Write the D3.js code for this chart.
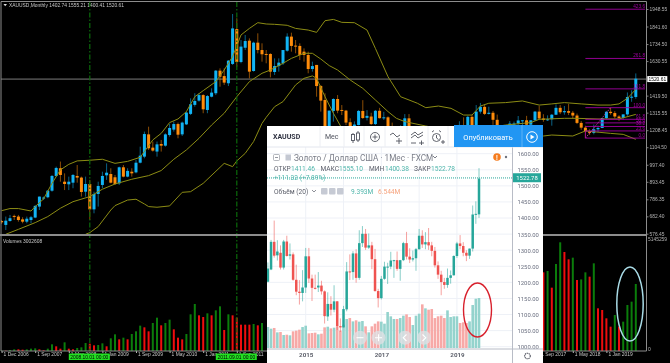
<!DOCTYPE html>
<html>
<head>
<meta charset="utf-8">
<style>
  html, body { margin: 0; padding: 0; background: #000; overflow: hidden; }
  svg { display: block; filter: blur(0.3px); }
  .mt text { font-family: "Liberation Sans", sans-serif; }
  .tv text { font-family: Roboto, "Liberation Sans", sans-serif; }
</style>
<script src="https://cdnjs.cloudflare.com/ajax/libs/d3/7.8.5/d3.min.js"></script>
</head>
<body>
<div id="chart"></div>
<script>
// ─── MT4 monthly bars, Dec 2006 to Dec 2013 (later months share the arrays of the front chart) ───
const headOpen = [654,630,654,685,681,664,650,660,675,742,791,799,839,929,976,894,878,888,929,919,833,880,725,819,874,933,941,921,884,982,925,955,951,1010,1047,1183,1102,1078,1124,1114,1179,1212,1246,1183,1244,1308,1363,1389,1423,1332,1413,1434,1572,1539,1495,1613,1826,1625,1712,1755,1570,1743,1698,1674,1674,1564,1600,1617,1694,1780,1725,1723,1688,1668,1582,1607,1478,1393,1234,1326,1399,1332,1328,1257];
const headHigh = [660,681,691,693,691,677,681,685,752,803,803,843,935,986,1017,945,925,941,996,925,925,905,833,894,955,1006,976,935,986,996,976,976,1027,1108,1200,1230,1139,1139,1149,1189,1246,1261,1255,1261,1322,1403,1434,1434,1428,1423,1464,1576,1586,1586,1637,1918,1892,1759,1790,1769,1749,1800,1739,1698,1678,1647,1647,1698,1800,1804,1759,1739,1708,1688,1627,1607,1485,1434,1328,1403,1423,1362,1332,1281];
const headLow = [636,599,650,660,650,640,640,640,671,721,782,793,833,925,894,843,843,854,888,803,803,660,701,742,854,905,884,874,874,921,921,925,945,1006,1037,1088,1078,1047,1078,1108,1169,1200,1159,1173,1240,1301,1352,1383,1312,1312,1409,1423,1474,1485,1478,1607,1596,1617,1698,1525,1566,1678,1627,1617,1531,1546,1566,1607,1688,1688,1678,1637,1627,1556,1566,1413,1322,1200,1220,1261,1312,1301,1240,1200];
const headClose = [646,656,671,679,660,650,668,677,746,803,797,839,929,978,935,880,894,935,919,831,880,725,819,868,929,949,888,880,982,925,960,945,1010,1053,1185,1098,1084,1122,1114,1183,1222,1246,1181,1255,1316,1367,1387,1423,1336,1417,1438,1572,1535,1499,1633,1830,1625,1719,1753,1566,1743,1698,1672,1668,1566,1600,1621,1698,1780,1723,1719,1668,1668,1582,1600,1478,1389,1234,1328,1399,1328,1328,1255,1202];

// ─── Front chart monthly bars, Jan 2014 to Aug 2019 ───
const tvOpen = [1202,1240,1326,1284,1292,1246,1327,1283,1287,1208,1171,1167,1184,1281,1212,1183,1184,1190,1172,1094,1133,1115,1141,1064,1060,1116,1234,1232,1290,1214,1322,1351,1308,1315,1272,1173,1151,1211,1249,1249,1268,1269,1242,1269,1322,1280,1271,1275,1303,1345,1318,1325,1315,1298,1253,1224,1201,1192,1214,1222,1282,1321,1313,1292,1283,1305,1411,1411.46];
const tvHigh = [1262,1332,1392,1331,1315,1332,1345,1321,1293,1255,1207,1238,1307,1307,1224,1224,1232,1205,1175,1169,1157,1191,1142,1088,1127,1263,1287,1297,1303,1362,1375,1366,1352,1326,1304,1180,1220,1264,1261,1295,1270,1296,1270,1326,1357,1306,1299,1307,1366,1362,1356,1369,1326,1310,1265,1236,1214,1243,1237,1284,1326,1347,1325,1300,1305,1439,1452,1555.1];
const tvLow = [1200,1238,1277,1268,1240,1240,1280,1271,1205,1160,1131,1141,1167,1198,1142,1178,1170,1162,1072,1080,1097,1107,1052,1046,1060,1110,1207,1208,1199,1208,1310,1301,1304,1241,1171,1122,1147,1208,1195,1241,1214,1236,1205,1266,1271,1260,1265,1236,1302,1307,1303,1301,1281,1246,1211,1160,1180,1183,1196,1221,1276,1303,1281,1266,1273,1296,1382,1400.38];
const tvClose = [1243,1326,1283,1296,1246,1327,1282,1287,1208,1171,1167,1184,1281,1212,1183,1182,1190,1172,1095,1133,1115,1141,1064,1060,1117,1234,1232,1290,1214,1322,1351,1308,1315,1272,1173,1151,1211,1249,1249,1268,1269,1242,1269,1322,1280,1271,1275,1303,1345,1318,1325,1315,1298,1253,1224,1201,1192,1214,1222,1282,1321,1313,1292,1283,1305,1411,1413,1522.78];
const tvVolume = [3.94,3.63,3.76,2.94,3.0,2.44,2.5,2.38,3.13,3.26,3.44,3.94,4.19,2.75,2.82,2.88,2.57,2.69,3.88,4.0,3.69,3.82,4.07,3.26,4.38,5.45,5.63,5.0,5.2,4.95,5.07,4.07,2.94,4.07,4.57,5.0,4.95,4.57,6.76,5.95,5.45,5.45,5.63,6.07,6.32,5.82,4.32,6.07,6.45,8.2,7.45,7.2,7.32,5.63,5.95,6.07,5.63,7.07,5.82,5.95,5.95,4.7,4.82,4.7,5.0,8.08,9.26,9.39];

// MT4 volumes in thousands; the months between the two runs sit behind the front chart
const volumeHead = [15,15,46,76,76,61,76,106,121,76,30,106,304,213,106,395,106,76,137,167,364,334,258,273,349,213,577,759,531,607,531,774,896,1154,1078,896,1275,1518,1169,1275,1427,987,607,531,774,1670,2140,1624,1548,1715,1624,1852,2034,956,1670,1624,1518,1199,1199,1199,1230,1169,1275];
const volumeTail = [3582,3643,2884,3962,4949,4508,4175,4250,3233,3260,3582,3385,3992,1943,1867,1488,1108,1639,1108,1336,2095,2247,3051];
const VOLUME_TAIL_START = 129;

// Bollinger bands as [bar index, price] read at the bends
const bandUpper = [[0,717],[2,730],[4,730],[7,715],[8,742],[10,789],[12,884],[14,966],[16,1000],[18,1021],[21,1025],[24,1031],[27,1006],[30,1018],[33,1043],[34,1078],[36,1149],[38,1189],[40,1255],[42,1277],[44,1322],[46,1413],[48,1450],[51,1505],[53,1576],[55,1658],[57,1790],[59,1830],[61,1865],[63,1857],[65,1855],[68,1849],[70,1830],[73,1820],[75,1806],[77,1877],[79,1885],[81,1867],[84,1865],[87,1820],[89,1708],[92,1535],[95,1413],[97,1393],[99,1373],[101,1346],[104,1356],[107,1342],[110,1301],[112,1301],[114,1356],[116,1373],[120,1377],[124,1387],[128,1362],[131,1369],[134,1377],[138,1369],[142,1362],[145,1362],[147,1369],[149,1403],[151,1458]];
const bandMiddle = [[1,573],[4,603],[8,644],[11,681],[14,732],[17,772],[21,803],[24,848],[27,880],[31,909],[35,931],[38,962],[41,1031],[44,1088],[47,1159],[50,1240],[53,1312],[56,1413],[59,1505],[62,1556],[64,1576],[67,1617],[69,1647],[72,1678],[74,1678],[76,1643],[78,1603],[80,1576],[83,1515],[86,1464],[89,1393],[92,1322],[94,1281],[96,1261],[101,1234],[105,1215],[110,1200],[115,1220],[120,1240],[126,1255],[128,1275],[134,1281],[137,1281],[142,1277],[147,1277],[151,1305]];
const bandLower = [[20,573],[21,583],[23,620],[26,721],[27,748],[30,782],[32,787],[34,758],[35,742],[37,738],[40,746],[43,829],[45,833],[48,884],[53,1006],[55,986],[56,1021],[58,1067],[60,1139],[62,1250],[63,1287],[65,1352],[67,1383],[70,1485],[72,1525],[74,1540],[75,1525],[77,1413],[79,1312],[81,1220],[85,1100],[90,1050],[95,1030],[100,1035],[110,1010],[120,1100],[129,1173],[131,1179],[136,1173],[139,1204],[145,1189],[148,1183],[151,1153]];

// Fibonacci grid between the Aug 2018 low and the Feb 2019 high
const fibLevels = [0, 23.6, 38.2, 50, 61.8, 100, 161.8, 261.8, 423.6];
const FIB_LOW = 1160.2, FIB_HIGH = 1346, FIB_START = 139, FIB_END = 145;

const mainPriceTicks = [1948.55,1841.60,1734.50,1630.55,1419.50,1315.55,1208.45,1104.50,997.40,893.45,786.35,682.40,576.45];
const CURRENT_PRICE = 1520.61;
const VOLUME_MAX = 5145259;
const markerBars = [21, 56];
const markerLabels = ['2008.10.01 00:00', '2011.09.01 00:00'];
const xTickBars = [0, 8, 16, 24, 32, 40, 48, 56, 128, 136, 144];
const xTickLabels = ['1 Dec 2006','1 Sep 2007','1 May 2008','1 Jan 2009','1 Sep 2009','1 May 2010','1 Jan 2011','1 Sep 2011','1 Sep 2017','1 May 2018','1 Jan 2019'];

const tvPriceTicks = [1000,1050,1100,1150,1200,1250,1300,1350,1400,1450,1500,1550,1600];
const tvYearBars = [12, 36, 60];
const tvYearLabels = ['2015', '2017', '2019'];
const tvGridBars = [12, 24, 36, 48, 60];

const WIDTH = 670, HEIGHT = 363;
const PANE_RIGHT = 646.5, PANE_SPLIT = 235, AXIS_Y = 351;
const TV = { left: 267, right: 543, top: 126, tool: 147, axis: 512.5, bottom: 349 };
const MT_FONT = '4.9px';

const BLUE = '#12b4f4', ORANGE = '#ff8c0a', BAND = '#8c8c14', FIB = '#a000a0', GRID = '#7d7d7d';
const TV_UP = '#26a69a', TV_DOWN = '#ef5350', TV_TEXT = '#6b7080', TV_LINE = '#e3e6ee';

const openAll = headOpen.concat(tvOpen);
const highAll = headHigh.concat(tvHigh);
const lowAll = headLow.concat(tvLow);
const closeAll = headClose.concat(tvClose);

const xMain = d3.scaleLinear().domain([0, 151]).range([1.6, 635.8]);
const yMain = d3.scaleLinear().domain([576.45, 1948.55]).range([233.7, 9]);
const yVolume = d3.scaleLinear().domain([0, VOLUME_MAX / 1000]).range([AXIS_Y, 238]);
const xTv = d3.scaleLinear().domain([0, 67]).range([267.9, 479]);
const yTv = d3.scaleLinear().domain([1000, 1600]).range([346.7, 153.7]);
const yTvVolume = d3.scaleLinear().domain([0, 9.393]).range([348, 298]);

const svg = d3.select('#chart').append('svg')
  .attr('width', WIDTH).attr('height', HEIGHT)
  .attr('viewBox', `0 0 ${WIDTH} ${HEIGHT}`)
  .style('background', '#000');

const defs = svg.append('defs');
defs.append('clipPath').attr('id', 'clip-main').append('rect')
  .attr('x', 1).attr('y', 2).attr('width', PANE_RIGHT - 1).attr('height', PANE_SPLIT - 3);
defs.append('clipPath').attr('id', 'clip-tv').append('rect')
  .attr('x', TV.left).attr('y', TV.tool).attr('width', TV.axis - TV.left).attr('height', TV.bottom - TV.tool);

drawMainChart();
drawVolumePane();
drawFrame();
drawFrontChart();
drawMarks();

function drawMainChart() {
  const mt = svg.append('g').attr('class', 'mt');
  const pane = mt.append('g').attr('clip-path', 'url(#clip-main)');

  pane.append('line')
    .attr('x1', 1).attr('x2', PANE_RIGHT)
    .attr('y1', yMain(CURRENT_PRICE)).attr('y2', yMain(CURRENT_PRICE))
    .attr('stroke', GRID).attr('stroke-width', 1);

  const bars = d3.range(openAll.length);

  pane.selectAll('.wick').data(bars).join('line')
    .attr('class', 'wick')
    .attr('x1', i => xMain(i)).attr('x2', i => xMain(i))
    .attr('y1', i => yMain(highAll[i])).attr('y2', i => yMain(lowAll[i]))
    .attr('stroke', i => closeAll[i] >= openAll[i] ? BLUE : ORANGE)
    .attr('stroke-opacity', 0.55)
    .attr('stroke-width', 1);

  pane.selectAll('.body').data(bars).join('rect')
    .attr('class', 'body')
    .attr('x', i => xMain(i) - 1.5)
    .attr('width', 3)
    .attr('y', i => yMain(Math.max(openAll[i], closeAll[i])))
    .attr('height', i => Math.max(1, Math.abs(yMain(openAll[i]) - yMain(closeAll[i]))))
    .attr('fill', i => closeAll[i] >= openAll[i] ? BLUE : ORANGE);

  const bandLine = d3.line().x(d => xMain(d[0])).y(d => yMain(d[1]));
  [bandUpper, bandMiddle, bandLower].forEach(band => {
    pane.append('path').attr('d', bandLine(band))
      .attr('fill', 'none').attr('stroke', BAND).attr('stroke-width', 1);
  });

  // Fibonacci grid
  const fibPrice = r => FIB_LOW + (FIB_HIGH - FIB_LOW) * r / 100;
  const fibRight = xMain.invert(645);
  pane.selectAll('.fib-line').data(fibLevels).join('line')
    .attr('class', 'fib-line')
    .attr('x1', xMain(FIB_START)).attr('x2', xMain(fibRight))
    .attr('y1', r => yMain(fibPrice(r))).attr('y2', r => yMain(fibPrice(r)))
    .attr('stroke', FIB).attr('stroke-width', 0.9);
  pane.selectAll('.fib-label').data(fibLevels).join('text')
    .attr('class', 'fib-label')
    .attr('x', 645).attr('y', r => yMain(fibPrice(r)) - 1)
    .attr('text-anchor', 'end')
    .style('font-size', '4.7px').style('fill', FIB)
    .text(r => r.toFixed(1));
  pane.append('line')
    .attr('x1', xMain(FIB_START)).attr('x2', xMain(FIB_END))
    .attr('y1', yMain(FIB_LOW)).attr('y2', yMain(FIB_HIGH))
    .attr('stroke', '#d040c0').attr('stroke-width', 0.8).attr('stroke-dasharray', '1.5,1');
  pane.append('line')
    .attr('x1', xMain(FIB_START)).attr('x2', xMain(FIB_START))
    .attr('y1', yMain(FIB_LOW)).attr('y2', yMain(fibPrice(23.6)))
    .attr('stroke', FIB).attr('stroke-width', 0.9);

  // Title
  mt.append('path').attr('d', 'M3.5,4 L7,4 L5.2,6.2 Z').attr('fill', '#ddd');
  mt.append('text').attr('x', 9).attr('y', 7.3)
    .style('font-size', MT_FONT).style('fill', '#c8c8c8')
    .text('XAUUSD,Monthly  1402.74 1555.21 1400.41 1520.61');

  // Price axis
  const axis = mt.append('g').attr('transform', `translate(${PANE_RIGHT},0)`)
    .call(d3.axisRight(yMain).tickValues(mainPriceTicks).tickFormat(d => d.toFixed(2)).tickSize(2).tickPadding(1));
  axis.select('.domain').remove();
  axis.selectAll('line').attr('stroke', GRID);
  axis.selectAll('text').style('font-size', MT_FONT).style('fill', '#b4b4b4')
    .style('font-family', '"Liberation Sans", sans-serif');

  mt.append('rect').attr('x', 647.3).attr('y', yMain(CURRENT_PRICE) - 3)
    .attr('width', 20).attr('height', 6).attr('fill', '#fff');
  mt.append('text').attr('x', 657.3).attr('y', yMain(CURRENT_PRICE) + 1.8)
    .attr('text-anchor', 'middle')
    .style('font-size', MT_FONT).style('fill', '#000')
    .text(CURRENT_PRICE.toFixed(2));
}

function drawVolumePane() {
  const mt = svg.append('g').attr('class', 'mt');

  const volumeBars = volumeHead.map((v, i) => ({ i, v, prev: i ? volumeHead[i - 1] : 0 }))
    .concat(volumeTail.map((v, k) => ({ i: VOLUME_TAIL_START + k, v, prev: k ? volumeTail[k - 1] : Infinity })));

  mt.selectAll('.vol').data(volumeBars).join('rect')
    .attr('class', 'vol')
    .attr('x', d => xMain(d.i) - 1)
    .attr('width', 2)
    .attr('y', d => yVolume(d.v))
    .attr('height', d => AXIS_Y - yVolume(d.v))
    .attr('fill', d => d.v > d.prev ? '#0b7d0b' : '#f00d0d');

  mt.append('text').attr('x', 3).attr('y', 242.6)
    .style('font-size', MT_FONT).style('fill', '#c8c8c8').text('Volumes 3002608');
  mt.append('text').attr('x', 648).attr('y', 241)
    .style('font-size', MT_FONT).style('fill', '#b4b4b4').text(String(VOLUME_MAX));
  mt.append('text').attr('x', 648).attr('y', 350.5)
    .style('font-size', MT_FONT).style('fill', '#b4b4b4').text('0');

  const axis = mt.append('g').attr('transform', `translate(0,${AXIS_Y})`)
    .call(d3.axisBottom(xMain).tickValues(xTickBars).tickFormat((d, i) => xTickLabels[i]).tickSize(2).tickPadding(0));
  axis.select('.domain').remove();
  axis.selectAll('line').attr('stroke', '#bbb');
  axis.selectAll('text')
    .attr('text-anchor', 'start').attr('dx', 1.5)
    .style('font-size', MT_FONT).style('fill', '#c8c8c8')
    .style('font-family', '"Liberation Sans", sans-serif');

  // Dash-dot markers through both panes, with their date tags on the time scale
  markerBars.forEach((bar, k) => {
    mt.append('line')
      .attr('x1', xMain(bar)).attr('x2', xMain(bar))
      .attr('y1', 2).attr('y2', AXIS_Y)
      .attr('stroke', '#0a6a0a').attr('stroke-width', 1.2).attr('stroke-dasharray', '5,2,1.5,2');
    mt.append('rect')
      .attr('x', xMain(bar) - 21).attr('y', 353.5)
      .attr('width', 41).attr('height', 6.5).attr('fill', '#22e022');
    mt.append('text')
      .attr('x', xMain(bar) - 0.5).attr('y', 358.6)
      .attr('text-anchor', 'middle')
      .style('font-size', MT_FONT).style('fill', '#000')
      .text(markerLabels[k]);
  });
}

function drawFrame() {
  const frame = svg.append('g').attr('stroke', '#8c8c8c').attr('fill', 'none');
  frame.append('path').attr('d', `M1,1.5 H${PANE_RIGHT} V${AXIS_Y} M1,1.5 V${AXIS_Y} H${PANE_RIGHT}`);
  frame.append('line').attr('x1', 0).attr('x2', PANE_RIGHT).attr('y1', PANE_SPLIT).attr('y2', PANE_SPLIT)
    .attr('stroke-width', 2);
}

function drawFrontChart() {
  const tv = svg.append('g').attr('class', 'tv');

  tv.append('rect')
    .attr('x', TV.left).attr('y', TV.top)
    .attr('width', TV.right - TV.left).attr('height', HEIGHT - TV.top)
    .attr('fill', '#fff');

  // Grid
  const grid = tv.append('g');
  grid.selectAll('.h').data(tvPriceTicks).join('line')
    .attr('x1', TV.left).attr('x2', TV.axis)
    .attr('y1', d => yTv(d)).attr('y2', d => yTv(d))
    .attr('stroke', '#eef1f7');
  grid.selectAll('.v').data(tvGridBars).join('line')
    .attr('x1', d => xTv(d)).attr('x2', d => xTv(d))
    .attr('y1', TV.tool).attr('y2', TV.bottom)
    .attr('stroke', '#eef1f7');

  const plot = tv.append('g').attr('clip-path', 'url(#clip-tv)');
  const bars = d3.range(tvOpen.length);
  const isUp = i => tvClose[i] >= tvOpen[i];

  plot.selectAll('.vol').data(bars).join('rect')
    .attr('x', i => xTv(i) - 1.3).attr('width', 2.6)
    .attr('y', i => yTvVolume(tvVolume[i]))
    .attr('height', i => 348 - yTvVolume(tvVolume[i]))
    .attr('fill', i => isUp(i) ? '#94d3cd' : '#f7a9a7');

  plot.selectAll('.wick').data(bars).join('line')
    .attr('x1', i => xTv(i)).attr('x2', i => xTv(i))
    .attr('y1', i => yTv(tvHigh[i])).attr('y2', i => yTv(tvLow[i]))
    .attr('stroke', i => isUp(i) ? TV_UP : TV_DOWN)
    .attr('stroke-opacity', 0.55);

  plot.selectAll('.body').data(bars).join('rect')
    .attr('x', i => xTv(i) - 1.25).attr('width', 2.5)
    .attr('y', i => yTv(Math.max(tvOpen[i], tvClose[i])))
    .attr('height', i => Math.max(1, Math.abs(yTv(tvOpen[i]) - yTv(tvClose[i]))))
    .attr('fill', i => isUp(i) ? TV_UP : TV_DOWN);

  plot.append('line')
    .attr('x1', TV.left).attr('x2', TV.axis)
    .attr('y1', yTv(1522.78) - 0.6).attr('y2', yTv(1522.78) - 0.6)
    .attr('stroke', TV_UP).attr('stroke-dasharray', '1,1');

  // Price and time scales
  const priceAxis = tv.append('g').attr('transform', `translate(${TV.axis},0)`)
    .call(d3.axisRight(yTv).tickValues(tvPriceTicks).tickFormat(d => d.toFixed(2)).tickSize(0).tickPadding(5));
  priceAxis.select('.domain').remove();
  priceAxis.selectAll('text').style('font-size', '5.9px').style('fill', TV_TEXT)
    .style('font-family', 'Roboto, sans-serif');
  tv.append('line').attr('x1', TV.axis).attr('x2', TV.axis).attr('y1', TV.tool).attr('y2', HEIGHT)
    .attr('stroke', '#b8bcc6');
  tv.append('line').attr('x1', TV.left).attr('x2', TV.right).attr('y1', TV.bottom).attr('y2', TV.bottom)
    .attr('stroke', '#b8bcc6');

  const timeAxis = tv.append('g').attr('transform', `translate(0,${TV.bottom})`)
    .call(d3.axisBottom(xTv).tickValues(tvYearBars).tickFormat((d, i) => tvYearLabels[i]).tickSize(0).tickPadding(4));
  timeAxis.select('.domain').remove();
  timeAxis.selectAll('text').style('font-size', '6.2px').style('font-weight', 700).style('fill', '#5d606b')
    .style('font-family', 'Roboto, sans-serif');

  tv.append('rect').attr('x', TV.axis + 0.5).attr('y', yTv(1522.78) - 5.3)
    .attr('width', 28).attr('height', 9).attr('fill', TV_UP);
  tv.append('text').attr('x', TV.axis + 14.5).attr('y', yTv(1522.78) + 1.2)
    .attr('text-anchor', 'middle').style('font-size', '5.9px').style('fill', '#fff').text('1522.78');

  drawToolbar(tv);
  drawLegend(tv);
  drawNavButtons(tv);
}

function drawToolbar(tv) {
  tv.append('line').attr('x1', TV.left).attr('x2', TV.right).attr('y1', TV.tool).attr('y2', TV.tool).attr('stroke', TV_LINE);
  [320, 344, 364, 385, 407, 428, 448].forEach(x => {
    tv.append('line').attr('x1', x).attr('x2', x).attr('y1', TV.top).attr('y2', TV.tool).attr('stroke', '#eceef3');
  });
  tv.append('text').attr('x', 273).attr('y', 139.3)
    .style('font-size', '7px').style('font-weight', 700).style('fill', '#2f3241').text('XAUUSD');
  tv.append('text').attr('x', 325).attr('y', 139.3)
    .style('font-size', '7px').style('fill', '#50535e').text('Мес');

  const icons = tv.append('g').attr('fill', 'none').attr('stroke', '#50535e').attr('stroke-width', 0.9);
  // candles, add indicator, compare, indicators, alert
  icons.append('path').attr('d', 'M353,133 V143 M358,131 V142');
  icons.append('rect').attr('x', 351.5).attr('y', 134.5).attr('width', 3).attr('height', 6).attr('fill', '#fff');
  icons.append('rect').attr('x', 356.5).attr('y', 133).attr('width', 3).attr('height', 7).attr('fill', '#fff');
  icons.append('circle').attr('cx', 375).attr('cy', 137).attr('r', 4.5);
  icons.append('path').attr('d', 'M372.5,137 H377.5 M375,134.5 V139.5');
  icons.append('path').attr('d', 'M390,135 L393,133 L397,137 L400,135 M396,141 H402 M399,138 V144');
  icons.append('path').attr('d', 'M411,135 L415,132 L418,135 L423,132 M411,138 L415,135 L418,138 L423,135 M411,143 H416 M419,143 H424 M421.5,140.5 V145');
  icons.append('circle').attr('cx', 436.5).attr('cy', 137.5).attr('r', 4);
  icons.append('path').attr('d', 'M432,132 L434,130.5 M441,132 L439,130.5 M436.5,135 V138 L438.5,139.5 M441,142 H445 M443,140 V144');

  tv.append('rect').attr('x', 454).attr('y', TV.top - 1).attr('width', TV.right - 454).attr('height', TV.tool - TV.top + 1)
    .attr('fill', '#2196f3');
  tv.append('line').attr('x1', 522).attr('x2', 522).attr('y1', TV.top - 1).attr('y2', TV.tool).attr('stroke', '#5eb2f6');
  tv.append('text').attr('x', 488).attr('y', 139.5)
    .attr('text-anchor', 'middle')
    .style('font-size', '7.4px').style('fill', '#fff').text('Опубликовать');
  tv.append('circle').attr('cx', 532).attr('cy', 137).attr('r', 5.3)
    .attr('fill', 'none').attr('stroke', '#fff');
  tv.append('path').attr('d', 'M530.5,134.5 L534.5,137 L530.5,139.5 Z').attr('fill', '#fff');
}

function drawLegend(tv) {
  const label = (x, y, text, fill, size) => tv.append('text').attr('x', x).attr('y', y)
    .style('font-size', (size || 7) + 'px').style('fill', fill).text(text);

  // Title row
  tv.append('rect').attr('x', 273.5).attr('y', 154.5).attr('width', 6).attr('height', 6)
    .attr('rx', 1).attr('fill', 'none').attr('stroke', '#9598a1').attr('stroke-width', 0.7);
  tv.append('line').attr('x1', 275).attr('x2', 278).attr('y1', 157.5).attr('y2', 157.5).attr('stroke', '#9598a1');
  tv.append('rect').attr('x', 285.5).attr('y', 154.5).attr('width', 5.5).attr('height', 6).attr('fill', '#c4c8d2');
  label(294, 161, 'Золото / Доллар США · 1Мес · FXCM', '#7a7d88', 8.2);
  tv.append('path').attr('d', 'M433,156 L435,158 L437,156').attr('fill', 'none').attr('stroke', '#7a7d88');
  tv.append('circle').attr('cx', 497).attr('cy', 157).attr('r', 3.8).attr('fill', '#f57c1f');
  tv.append('text').attr('x', 497).attr('y', 159.5).attr('text-anchor', 'middle')
    .style('font-size', '6.5px').style('font-weight', 700).style('fill', '#fff').text('!');
  tv.append('circle').attr('cx', 506).attr('cy', 157).attr('r', 1.2).attr('fill', '#70737e');

  // OHLC row
  const TEAL = '#4fb6ab', DARK = '#5d606b';
  label(274, 170.6, 'ОТКР', DARK, 6.6); label(291, 170.6, '1411.46', TEAL, 6.6);
  label(320.5, 170.6, 'МАКС', DARK, 6.6); label(339, 170.6, '1555.10', TEAL, 6.6);
  label(369, 170.6, 'МИН', DARK, 6.6); label(385, 170.6, '1400.38', TEAL, 6.6);
  label(414, 170.6, 'ЗАКР', DARK, 6.6); label(431, 170.6, '1522.78', TEAL, 6.6);
  label(274, 180.2, '+111.32 (+7.89%)', TEAL, 6.6);

  // Volume row
  label(274, 193.5, 'Объём (20)', DARK, 6.6);
  tv.append('path').attr('d', 'M312,190 L314,192 L316,190').attr('fill', 'none').attr('stroke', DARK).attr('stroke-width', 0.7);
  [321, 329, 337].forEach(x => {
    tv.append('rect').attr('x', x).attr('y', 188).attr('width', 6.5).attr('height', 6.5)
      .attr('rx', 1).attr('fill', '#c6cad4');
  });
  label(351, 193.5, '9.393M', TEAL, 6.6);
  label(378, 193.5, '6.544M', '#f6a27c', 6.6);

  // Settings gear on the time scale corner
  tv.append('circle').attr('cx', 527.5).attr('cy', 356).attr('r', 2.8)
    .attr('fill', 'none').attr('stroke', '#50535e').attr('stroke-width', 1.1).attr('stroke-dasharray', '1.4,0.6');
}

function drawNavButtons(tv) {
  const buttons = [[360, 'M356.5,337.7 H363.5'], [378.5, 'M375,337.7 H382 M378.5,334.2 V341.2'],
    [405, 'M406.5,334.5 L403.2,337.7 L406.5,341'], [424, 'M422.5,334.5 L425.8,337.7 L422.5,341']];
  buttons.forEach(([cx, d]) => {
    tv.append('circle').attr('cx', cx).attr('cy', 337.7).attr('r', 7).attr('fill', 'rgba(222,224,228,0.8)');
    tv.append('path').attr('d', d).attr('fill', 'none').attr('stroke', '#fff').attr('stroke-width', 1.1);
  });
}

function drawMarks() {
  svg.append('ellipse')
    .attr('cx', 477.5).attr('cy', 310).attr('rx', 14).attr('ry', 27)
    .attr('fill', 'none').attr('stroke', '#d8202c').attr('stroke-width', 1.4);
  svg.append('ellipse')
    .attr('cx', 630).attr('cy', 304).attr('rx', 13.2).attr('ry', 37)
    .attr('fill', 'none').attr('stroke', '#a9dbe6').attr('stroke-width', 1.5);
}
</script>
</body>
</html>
